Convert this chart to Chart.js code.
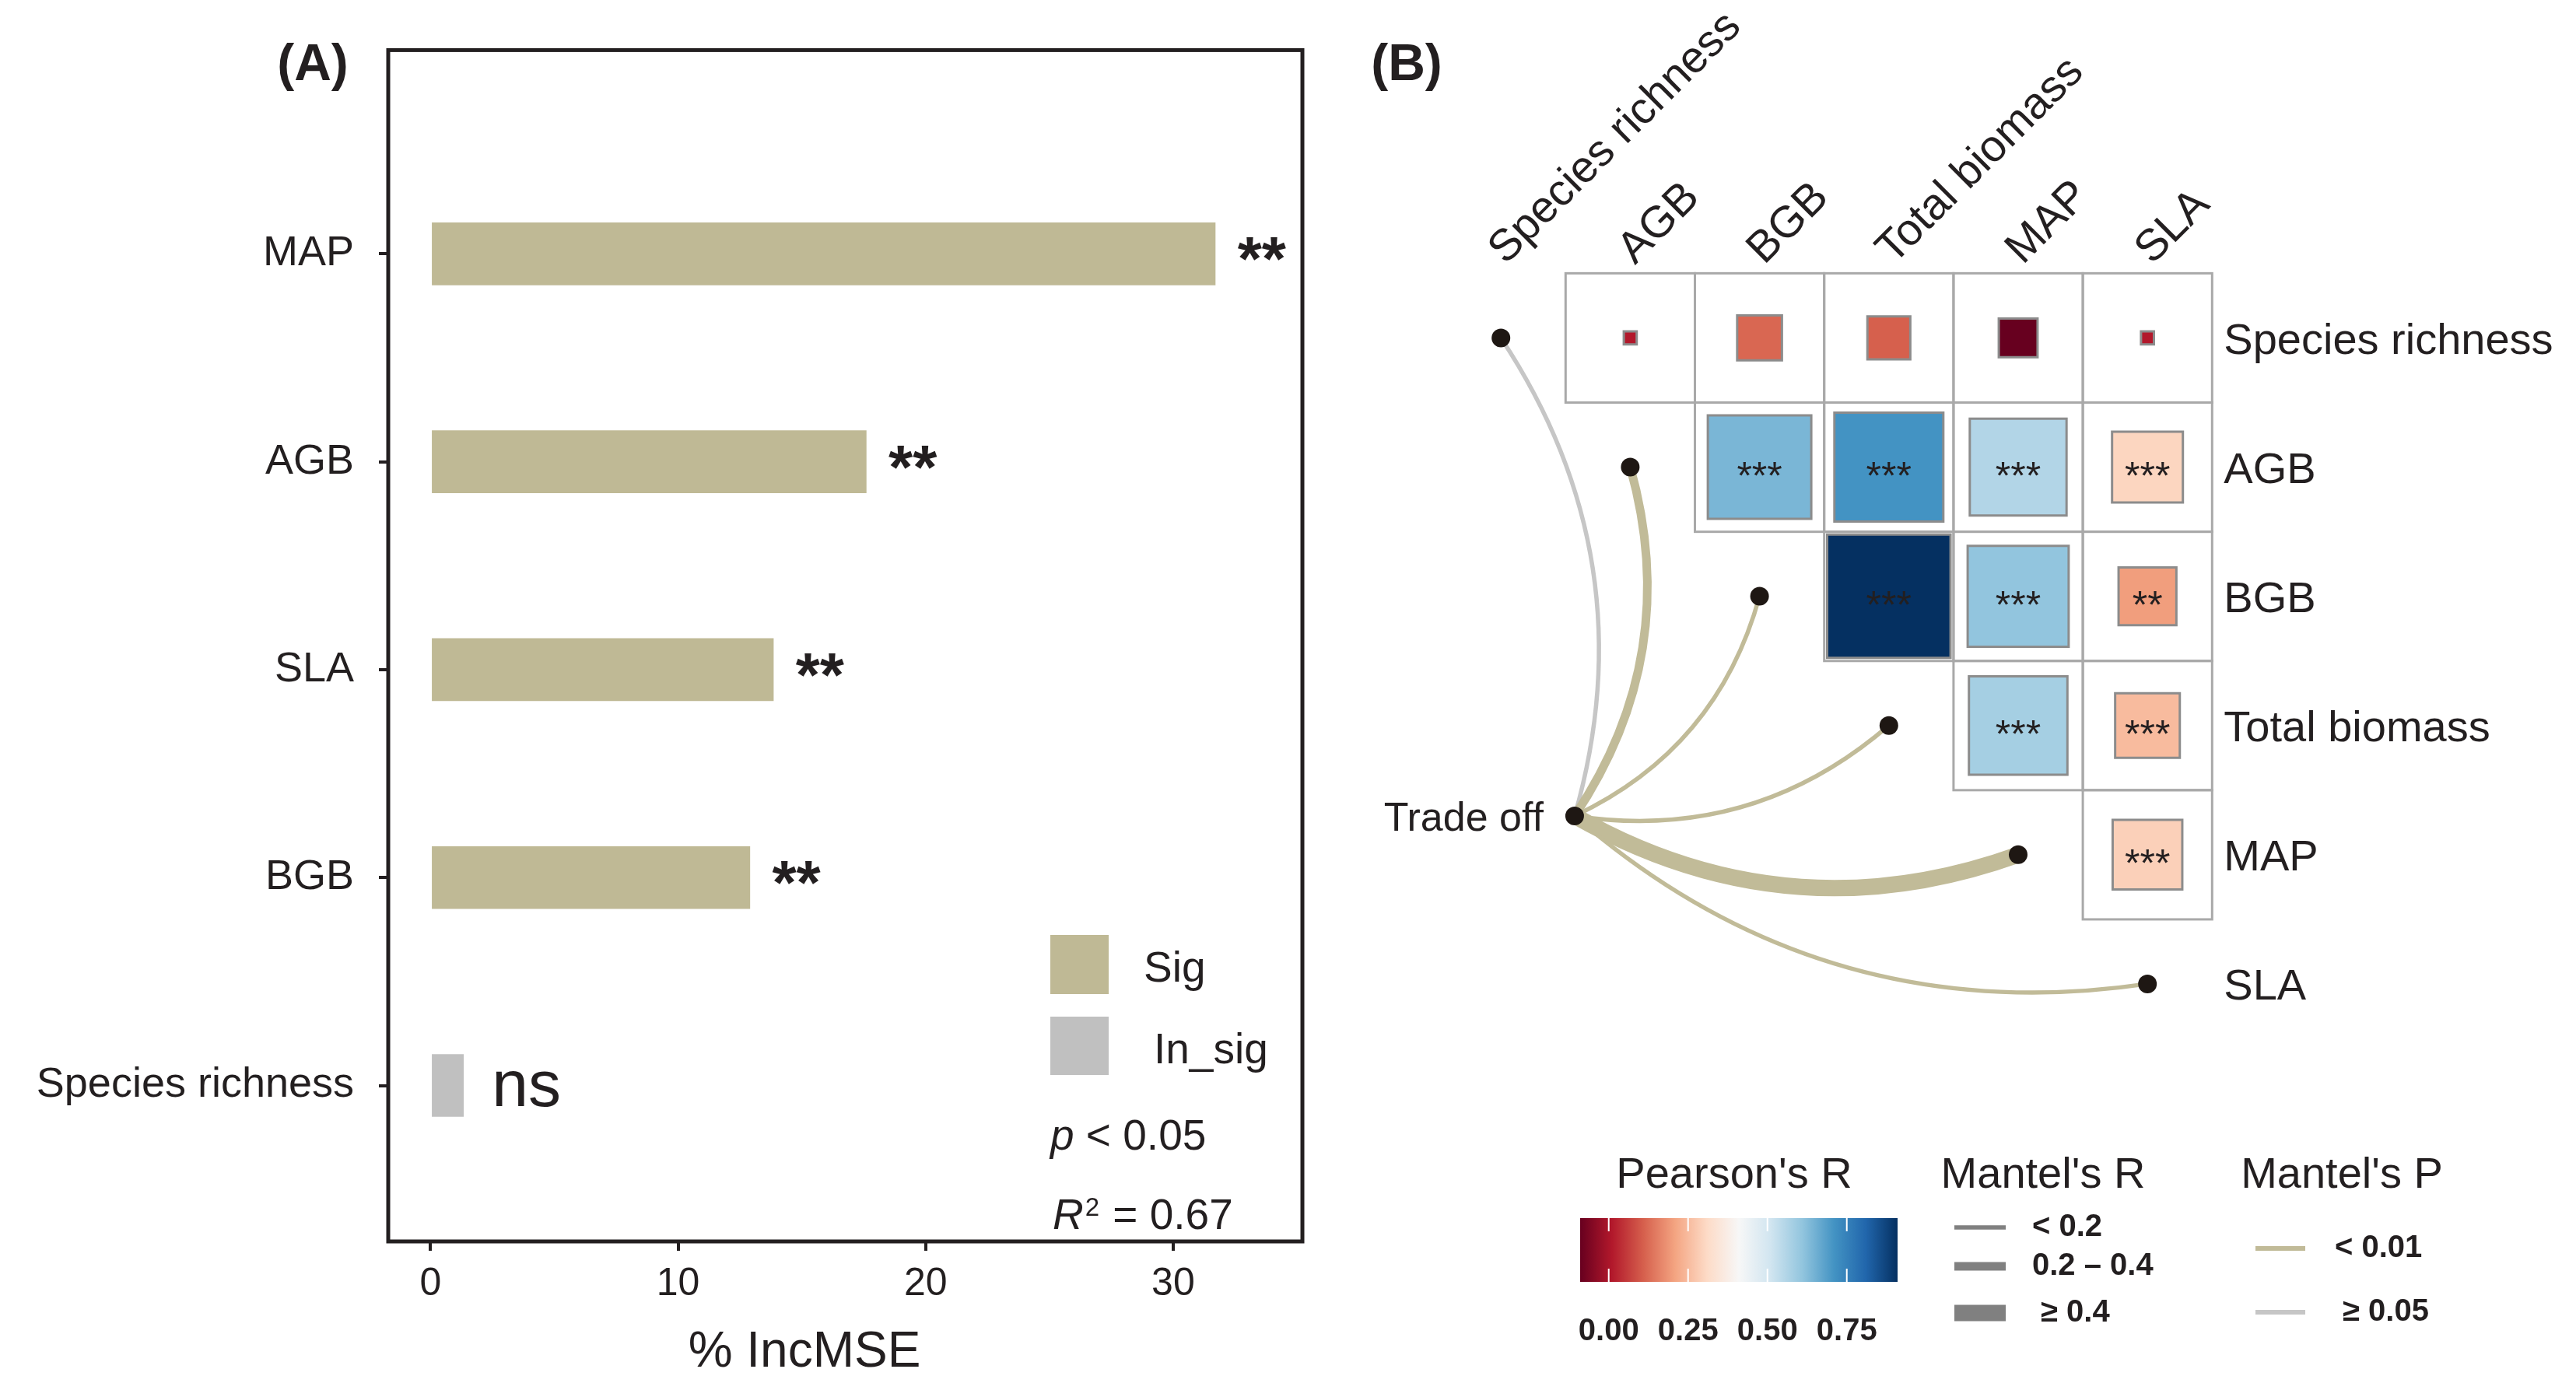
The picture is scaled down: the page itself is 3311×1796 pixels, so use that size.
<!DOCTYPE html>
<html>
<head>
<meta charset="utf-8">
<script src="https://cdn.jsdelivr.net/npm/chart.js@4.4.1/dist/chart.umd.min.js"></script>
<style>
  html, body { margin: 0; padding: 0; background: #ffffff; }
  #wrap { position: relative; width: 3311px; height: 1796px; background: #ffffff; }
  #chartA { position: absolute; left: 0; top: 0; }
  #chartB { position: absolute; left: 1700px; top: 0; }
</style>
</head>
<body>
<div id="wrap">
  <canvas id="chartA" width="1700" height="1796"></canvas>
  <canvas id="chartB" width="1611" height="1796"></canvas>
</div>
<script>
// ---- panel A data ----
const catsA = ['MAP', 'AGB', 'SLA', 'BGB', 'Species richness'];
const incMSE = [31.7, 17.6, 13.85, 12.9, 1.33];
const sigA = ['**', '**', '**', '**', 'ns'];
const xTicksA = [0, 10, 20, 30];

// ---- panel B data ----
const varNames = ['Species richness', 'AGB', 'BGB', 'Total biomass', 'MAP', 'SLA'];
// upper triangle of Pearson's r, each row against the following columns
const rSpecies = [0.01, 0.12, 0.11, -0.09, 0.01];
const rAGB = [0.64, 0.71, 0.56, 0.30];
const rBGB = [0.91, 0.61, 0.20];
const rTotal = [0.58, 0.25];
const rMAP = [0.29];
const sigSpecies = ['', '', '', '', ''];
const sigAGB = ['***', '***', '***', '***'];
const sigBGB = ['***', '***', '**'];
const sigTotal = ['***', '***'];
const sigMAP = ['***'];
// Mantel test of "Trade off" against each variable
const mantelRClass = ['< 0.2', '0.2 - 0.4', '< 0.2', '< 0.2', '≥ 0.4', '< 0.2'];
const mantelPClass = ['≥ 0.05', '< 0.01', '< 0.01', '< 0.01', '< 0.01', '< 0.01'];
const tradeOff = { label: 'Trade off', x: 0.57, y: 3.70 };
const pearsonTicks = [0, 0.25, 0.5, 0.75];

const FONT = '"Liberation Sans", Arial, sans-serif';
const INK = '#231f20';
const KHAKI = '#bfb995';
const GREY = '#c0c0c0';
const RDBU = ['#67001f', '#b2182b', '#d6604d', '#f4a582', '#fddbc7', '#f7f7f7',
              '#d1e5f0', '#92c5de', '#4393c3', '#2166ac', '#053061'];
const lineWidthFor = { '< 0.2': 5.5, '0.2 - 0.4': 11, '≥ 0.4': 21 };
const lineColorFor = { '< 0.01': '#c1bb98', '≥ 0.05': '#c6c6c6' };

// ---------------- panel A ----------------
const panelA = {
    id: 'panelA',
    afterDraw(chart) {
        const { ctx, chartArea: a, scales: { x, y } } = chart;
        ctx.save();
        ctx.strokeStyle = INK;
        ctx.lineWidth = 5;
        ctx.strokeRect(a.left, a.top, a.right - a.left, a.bottom - a.top);

        ctx.fillStyle = INK;
        ctx.textAlign = 'left';
        ctx.textBaseline = 'alphabetic';
        incMSE.forEach((v, i) => {
            const yy = y.getPixelForValue(i);
            if (sigA[i] === 'ns') {
                ctx.font = `84px ${FONT}`;
                ctx.fillText('ns', x.getPixelForValue(v + 1.15), yy + 26);
            } else {
                ctx.font = `bold 80px ${FONT}`;
                ctx.fillText(sigA[i], x.getPixelForValue(v + 0.9), yy + 34);
            }
        });

        // legend
        ctx.fillStyle = KHAKI;
        ctx.fillRect(1350, 1202, 75, 76);
        ctx.fillStyle = GREY;
        ctx.fillRect(1350, 1307, 75, 75);
        ctx.fillStyle = INK;
        ctx.font = `55px ${FONT}`;
        ctx.fillText('Sig', 1470, 1262);
        ctx.fillText('In_sig', 1483, 1367);

        // p and R2
        ctx.font = `italic 55px ${FONT}`;
        ctx.fillText('p', 1350, 1478);
        let w = ctx.measureText('p').width;
        ctx.font = `55px ${FONT}`;
        ctx.fillText(' < 0.05', 1350 + w, 1478);

        ctx.font = `italic 55px ${FONT}`;
        ctx.fillText('R', 1353, 1580);
        w = ctx.measureText('R').width;
        ctx.font = `33px ${FONT}`;
        ctx.fillText('2', 1353 + w + 2, 1563);
        const w2 = ctx.measureText('2').width;
        ctx.font = `55px ${FONT}`;
        ctx.fillText(' = 0.67', 1353 + w + w2 + 4, 1580);

        // panel tag and axis title
        ctx.textAlign = 'center';
        ctx.font = `bold 66px ${FONT}`;
        ctx.fillText('(A)', 402, 103);
        ctx.font = `64px ${FONT}`;
        ctx.fillText('% IncMSE', 1034, 1757);
        ctx.restore();
    }
};

new Chart(document.getElementById('chartA'), {
    type: 'bar',
    data: {
        datasets: [{
            data: incMSE.map((v, i) => ({ x: v, y: i })),
            backgroundColor: sigA.map(s => (s === 'ns' ? GREY : KHAKI)),
            borderWidth: 0,
            barThickness: 80,
        }],
    },
    options: {
        indexAxis: 'y',
        responsive: false,
        devicePixelRatio: 1,
        animation: false,
        events: [],
        layout: { padding: { top: 57, right: 26, left: 0, bottom: 0 } },
        plugins: { legend: { display: false }, tooltip: { enabled: false } },
        scales: {
            x: {
                type: 'linear',
                position: 'bottom',
                min: -1.71,
                max: 35.22,
                offset: false,
                afterBuildTicks: s => { s.ticks = xTicksA.map(v => ({ value: v })); },
                afterFit: s => { s.height = 200; },
                border: { display: false },
                grid: { offset: false, drawOnChartArea: false, drawTicks: true, tickLength: 12, lineWidth: 4, color: INK },
                ticks: { color: INK, padding: 13, font: { family: FONT, size: 50 } },
            },
            y: {
                type: 'linear',
                reverse: true,
                min: -0.98,
                max: 4.75,
                offset: false,
                afterBuildTicks: s => { s.ticks = catsA.map((c, i) => ({ value: i })); },
                afterFit: s => { s.width = 499; },
                border: { display: false },
                grid: { offset: false, drawOnChartArea: false, drawTicks: true, tickLength: 12, lineWidth: 4, color: INK },
                ticks: {
                    color: INK,
                    padding: 32,
                    font: { family: FONT, size: 54 },
                    callback: v => catsA[v],
                },
            },
        },
    },
    plugins: [panelA],
});

// ---------------- panel B ----------------
const corrRows = [rSpecies, rAGB, rBGB, rTotal, rMAP];
const sigRows = [sigSpecies, sigAGB, sigBGB, sigTotal, sigMAP];
const cells = [];
corrRows.forEach((row, r) => {
    row.forEach((v, k) => {
        cells.push({ x: r + 1 + k, y: r, v: v, sig: sigRows[r][k] });
    });
});
const allR = cells.map(c => c.v);
const rMin = Math.min(...allR);
const rMax = Math.max(...allR);

function hexToRgb(h) {
    return [1, 3, 5].map(i => parseInt(h.slice(i, i + 2), 16));
}
function rdbu(v) {
    const t = Math.max(0, Math.min(1, (v - rMin) / (rMax - rMin))) * (RDBU.length - 1);
    const i = Math.min(Math.floor(t), RDBU.length - 2);
    const f = t - i;
    const a = hexToRgb(RDBU[i]);
    const b = hexToRgb(RDBU[i + 1]);
    const c = a.map((ch, j) => Math.round(ch + (b[j] - ch) * f));
    return `rgb(${c[0]}, ${c[1]}, ${c[2]})`;
}

function cellSize(chart) {
    const x = chart.scales.x;
    return Math.abs(x.getPixelForValue(1) - x.getPixelForValue(0));
}

const panelB = {
    id: 'panelB',
    beforeDatasetsDraw(chart) {
        const { ctx, scales: { x, y } } = chart;
        const cs = cellSize(chart);
        ctx.save();
        // grid cells
        ctx.strokeStyle = '#a9a9a9';
        ctx.lineWidth = 3;
        cells.forEach(c => {
            ctx.strokeRect(x.getPixelForValue(c.x - 0.5), y.getPixelForValue(c.y - 0.5), cs, cs);
        });
        // Mantel curves
        const x0 = x.getPixelForValue(tradeOff.x);
        const y0 = y.getPixelForValue(tradeOff.y);
        ctx.lineCap = 'butt';
        varNames.forEach((name, i) => {
            const x1 = x.getPixelForValue(i);
            const y1 = y.getPixelForValue(i);
            const dx = x1 - x0, dy = y1 - y0;
            const k = 0.23;
            const cx = (x0 + x1) / 2 - dy * k;
            const cy = (y0 + y1) / 2 + dx * k;
            ctx.beginPath();
            ctx.moveTo(x0, y0);
            ctx.quadraticCurveTo(cx, cy, x1, y1);
            ctx.strokeStyle = lineColorFor[mantelPClass[i]];
            ctx.lineWidth = lineWidthFor[mantelRClass[i]];
            ctx.stroke();
        });
        ctx.restore();
    },
    afterDatasetsDraw(chart) {
        const { ctx, scales: { x, y } } = chart;
        ctx.save();
        ctx.fillStyle = INK;
        ctx.font = `50px ${FONT}`;
        ctx.textAlign = 'center';
        ctx.textBaseline = 'alphabetic';
        cells.forEach(c => {
            if (c.sig) ctx.fillText(c.sig, x.getPixelForValue(c.x), y.getPixelForValue(c.y) + 28);
        });
        ctx.restore();
    },
    afterDraw(chart) {
        const { ctx, scales: { x, y } } = chart;
        ctx.save();
        ctx.fillStyle = INK;

        // column labels, rotated
        const gridTop = y.getPixelForValue(-0.5);
        ctx.font = `57px ${FONT}`;
        ctx.textAlign = 'left';
        ctx.textBaseline = 'alphabetic';
        varNames.forEach((name, i) => {
            ctx.save();
            ctx.translate(x.getPixelForValue(i) + 6, gridTop - 10);
            ctx.rotate(-Math.PI / 4);
            ctx.fillText(name, 0, 0);
            ctx.restore();
        });
        // row labels
        ctx.font = `56px ${FONT}`;
        ctx.textBaseline = 'middle';
        const rowX = x.getPixelForValue(varNames.length - 0.5) + 15;
        varNames.forEach((name, i) => {
            ctx.fillText(name, rowX, y.getPixelForValue(i) + 5);
        });
        // trade off label
        ctx.textAlign = 'right';
        ctx.font = `52px ${FONT}`;
        ctx.fillText(tradeOff.label, x.getPixelForValue(tradeOff.x) - 40, y.getPixelForValue(tradeOff.y) + 5);

        // panel tag
        ctx.textAlign = 'center';
        ctx.textBaseline = 'alphabetic';
        ctx.font = `bold 66px ${FONT}`;
        ctx.fillText('(B)', 108, 103);

        // legend titles
        ctx.font = `56px ${FONT}`;
        ctx.fillText("Pearson's R", 529, 1527);
        ctx.fillText("Mantel's R", 926, 1527);
        ctx.fillText("Mantel's P", 1310, 1527);

        // colour bar
        const cbL = 331, cbR = 739, cbT = 1566, cbB = 1648;
        const grad = ctx.createLinearGradient(cbL, 0, cbR, 0);
        RDBU.forEach((col, i) => grad.addColorStop(i / (RDBU.length - 1), col));
        ctx.fillStyle = grad;
        ctx.fillRect(cbL, cbT, cbR - cbL, cbB - cbT);
        ctx.strokeStyle = '#ffffff';
        ctx.lineWidth = 2;
        ctx.fillStyle = INK;
        ctx.font = `bold 40px ${FONT}`;
        ctx.textBaseline = 'middle';
        pearsonTicks.forEach(v => {
            const px = cbL + (v - rMin) / (rMax - rMin) * (cbR - cbL);
            ctx.beginPath();
            ctx.moveTo(px, cbT); ctx.lineTo(px, cbT + 17);
            ctx.moveTo(px, cbB); ctx.lineTo(px, cbB - 17);
            ctx.stroke();
            ctx.fillText(v.toFixed(2), px, 1712);
        });

        // Mantel's R keys
        const rKeys = [['< 0.2', '< 0.2', 1578, 912], ['0.2 - 0.4', '0.2 – 0.4', 1628, 912], ['≥ 0.4', '≥ 0.4', 1688, 923]];
        ctx.textAlign = 'left';
        rKeys.forEach(([cls, txt, ky, tx]) => {
            ctx.fillStyle = '#808080';
            const h = lineWidthFor[cls];
            ctx.fillRect(812, ky - h / 2, 66, h);
            ctx.fillStyle = INK;
            ctx.fillText(txt, tx, ky);
        });
        // Mantel's P keys
        const pKeys = [['< 0.01', 1605, 1301], ['≥ 0.05', 1687, 1311]];
        pKeys.forEach(([cls, ky, tx]) => {
            ctx.fillStyle = lineColorFor[cls];
            ctx.fillRect(1199, ky - 3, 64, 6);
            ctx.fillStyle = INK;
            ctx.fillText(cls, tx, ky);
        });
        ctx.restore();
    }
};

const nodePoints = varNames.map((n, i) => ({ x: i, y: i }));
nodePoints.push({ x: tradeOff.x, y: tradeOff.y });

new Chart(document.getElementById('chartB'), {
    type: 'scatter',
    data: {
        datasets: [
            {
                data: cells,
                pointStyle: 'rect',
                pointRadius: ctx => {
                    const c = ctx.raw;
                    return Math.sqrt(Math.abs(c.v)) * cellSize(ctx.chart) / (2 * Math.SQRT1_2);
                },
                pointBackgroundColor: ctx => rdbu(ctx.raw.v),
                pointBorderColor: '#8c8c8c',
                pointBorderWidth: 3,
            },
            {
                data: nodePoints,
                pointStyle: 'circle',
                pointRadius: 12,
                pointBackgroundColor: '#1e1713',
                pointBorderWidth: 0,
            },
        ],
    },
    options: {
        responsive: false,
        devicePixelRatio: 1,
        animation: false,
        events: [],
        layout: { padding: { left: 63, right: 218.4, top: 268.3, bottom: 198.9 } },
        plugins: { legend: { display: false }, tooltip: { enabled: false } },
        scales: {
            x: { type: 'linear', min: -1, max: 7, display: false },
            y: { type: 'linear', min: -1, max: 7, reverse: true, display: false },
        },
    },
    plugins: [panelB],
});
</script>
</body>
</html>
